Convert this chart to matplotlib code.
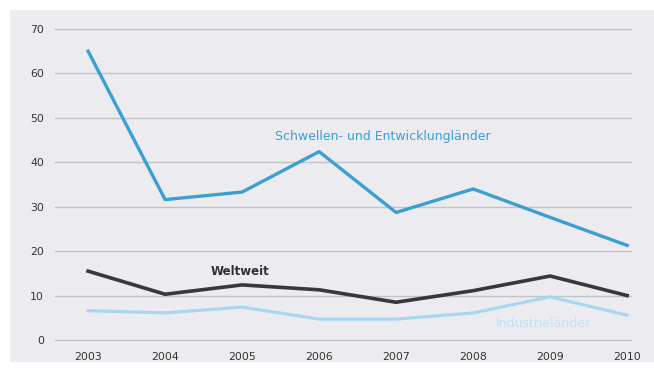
import matplotlib
matplotlib.use("Agg")
import matplotlib.pyplot as plt
from matplotlib.patches import Rectangle

years = [2003, 2004, 2005, 2006, 2007, 2008, 2009, 2010]
schwellen = [65.0, 31.6, 33.3, 42.4, 28.7, 34.0, 27.6, 21.3]
weltweit = [15.5, 10.3, 12.4, 11.3, 8.5, 11.1, 14.4, 10.0]
industrie = [6.6, 6.1, 7.4, 4.7, 4.7, 6.1, 9.7, 5.6]
y_ticks = [0, 10, 20, 30, 40, 50, 60, 70]

c_schwellen = "#3c9fd2"
c_welt = "#35383c"
c_industrie = "#aad6f0"

fig = plt.figure(figsize=(6.54, 3.69), dpi=100, facecolor="white")
fig.patches.append(Rectangle((10 / 654, 7 / 369), 644 / 654, 352 / 369,
                             transform=fig.transFigure, facecolor="#ececf0",
                             edgecolor="none", zorder=-10))

ax = fig.add_axes([55 / 654, 29 / 369, 576 / 654, 311 / 369])
ax.set_zorder(1)
ax.set_facecolor("none")
ax.set_xlim(2002.57, 2010.05)
ax.set_ylim(0, 70)

for v in y_ticks:
    ax.axhline(v, color="#c2c2c7", lw=1.0, zorder=1, clip_on=False)

ax.plot(years, industrie, color=c_industrie, lw=2.3, zorder=3, solid_joinstyle="round")
ax.plot(years, weltweit, color=c_welt, lw=2.6, zorder=4, solid_joinstyle="round")
ax.plot(years, schwellen, color=c_schwellen, lw=2.4, zorder=5, solid_joinstyle="round")

ax.text(2006.83, 45.9, "Schwellen- und Entwicklungländer", color=c_schwellen,
        fontsize=9, ha="center", va="center")
ax.text(2004.97, 15.5, "Weltweit", color="#2e3033", fontsize=8.5,
        fontweight="bold", ha="center", va="center")
ax.text(2008.91, 3.8, "Industrieländer", color="#c0e0f4", fontsize=9,
        ha="center", va="center")

ax.set_xticks(years)
ax.set_xticklabels([str(y) for y in years])
ax.set_yticks(y_ticks)
ax.tick_params(axis="both", length=0, labelsize=7.8, labelcolor="#333333")
ax.tick_params(axis="x", pad=9)
ax.tick_params(axis="y", pad=8)
for s in ax.spines.values():
    s.set_visible(False)

fig.savefig("out.png", dpi=100, facecolor="white")
